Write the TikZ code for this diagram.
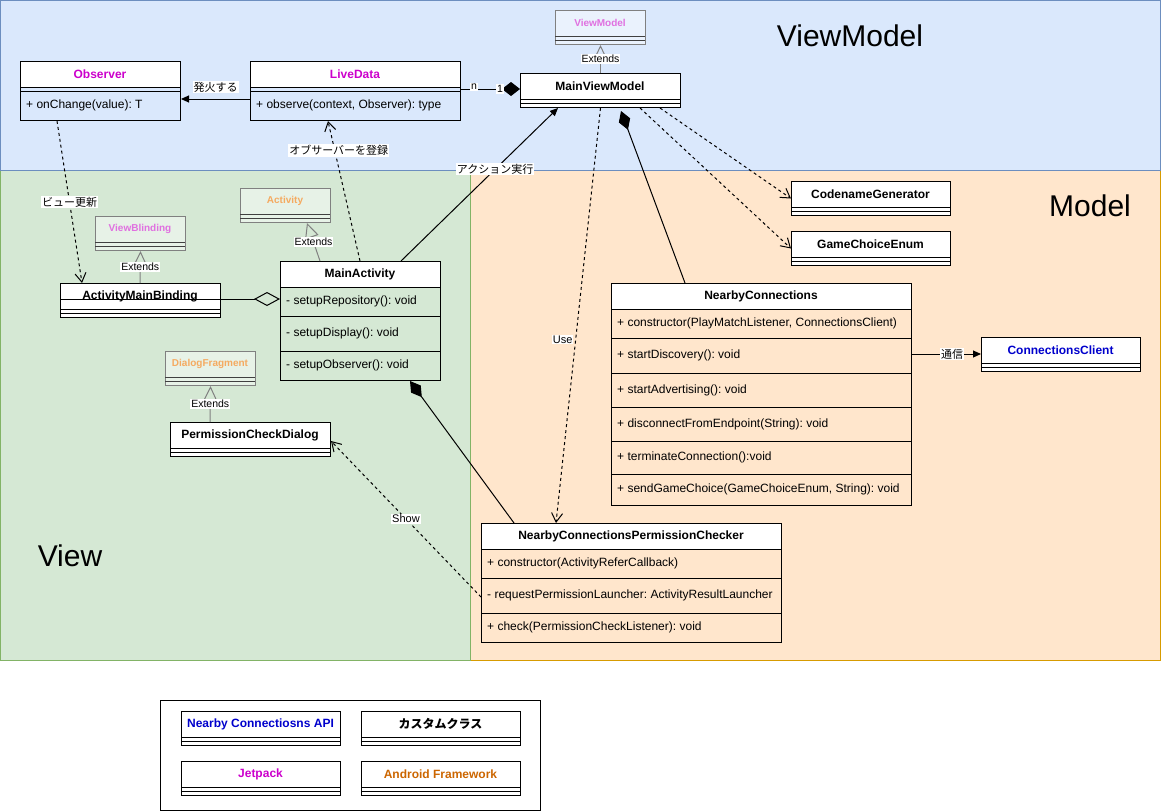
\documentclass[tikz,border=0pt]{standalone}
\usepackage{fontspec}
\setmainfont{Liberation Sans}
\newfontfamily\jp{Noto Sans CJK JP}
\usetikzlibrary{arrows.meta,calc}
\frenchspacing
\definecolor{vmfill}{HTML}{DAE8FC}
\definecolor{vmline}{HTML}{6C8EBF}
\definecolor{vfill}{HTML}{D5E8D4}
\definecolor{vline}{HTML}{82B366}
\definecolor{mfill}{HTML}{FFE6CC}
\definecolor{mline}{HTML}{D79B00}
\definecolor{jet}{HTML}{CC00CC}
\definecolor{api}{HTML}{0000CC}
\definecolor{andr}{HTML}{CC6600}
\definecolor{fjet}{HTML}{E070E0}
\definecolor{fandr}{HTML}{F5AA60}
\newcommand\fs[1]{\fontsize{#1}{#1}\selectfont}
% class box with header
\newcommand\cls[6]{%
  \fill[white] (#2,#3) rectangle ++(#4,26);
  \node[frame, minimum width=#4pt, minimum height=#5pt] (#1) at (#2,#3) {};
  \draw[lw] (#2,#3+26) -- ++(#4,0);
  \node[ttl] at (#2+#4/2,#3+13) {#6};
}
% simple class box (34 high)
\newcommand\scls[5]{%
  \fill[white] (#2,#3) rectangle ++(#4,34);
  \node[frame, minimum width=#4pt, minimum height=34pt] (#1) at (#2,#3) {};
  \draw[lw] (#2,#3+26) -- ++(#4,0);
  \draw[lw] (#2,#3+30) -- ++(#4,0);
  \node[ttl] at (#2+#4/2,#3+13) {#5};
}
% faded class box
\newcommand\fcls[5]{%
  \fill[white, fill opacity=0.45] (#2,#3) rectangle ++(#4,34);
  \node[ffram, minimum width=#4pt, minimum height=34pt] (#1) at (#2,#3) {};
  \draw[lw, black!75] (#2,#3+26) -- ++(#4,0);
  \draw[lw, black!75] (#2,#3+30) -- ++(#4,0);
  \node[fttl] at (#2+#4/2,#3+13) {#5};
}
\newcommand\hsep[3]{\draw[lw] (#1,#2) -- ++(#3,0);}
\begin{document}
\begin{tikzpicture}[x=1pt,y=-1pt,
  lw/.style={line width=1pt},
  frame/.style={draw, line width=1pt, inner sep=0pt, anchor=north west},
  ffram/.style={draw=black!50, line width=1pt, inner sep=0pt, anchor=north west},
  ttl/.style={font=\fs{12}\bfseries, inner sep=0pt},
  fttl/.style={font=\fs{10}\bfseries, inner sep=0pt},
  meth/.style={font=\fs{12}, inner sep=0pt, anchor=west},
  lbl/.style={fill=white, inner sep=1pt, font=\fs{11}},
  elbl/.style={fill=white, inner sep=1pt, font=\fs{10.5}},
  region/.style={font=\fs{30}},
  assoc/.style={lw, -{Triangle[length=8pt,width=7pt]}},
  dep/.style={lw, dash pattern=on 3pt off 3pt, -{Straight Barb[length=9pt,width=11pt]}},
  ext/.style={lw, draw=black!50, -{Triangle[open,length=15pt,width=14pt]}},
  comp/.style={lw, -{Diamond[length=20pt,width=12pt]}},
  aggr/.style={lw, -{Diamond[open,length=26pt,width=14pt]}},
]
\useasboundingbox (0,0) rectangle (1161,811);
% regions
\path[fill=mfill, draw=mline, lw] (470,170) rectangle (1160.5,660);
\path[fill=vfill, draw=vline, lw] (0.5,170) rectangle (470,660);
\path[fill=vmfill, draw=vmline, lw] (0.5,0.5) rectangle (1160.5,170);
\node[region] (lvm) at (850,36) {ViewModel};
\node[region] (lm) at (1090,206) {Model};
\node[region] (lv) at (70,556) {View};

% classes
\cls{obs}{20}{61}{160}{59}{\textcolor{jet}{Observer}}
\hsep{20}{91}{160}
\node[meth] at (26,105.5) {+ onChange(value): T};

\cls{ld}{250}{61}{210}{59}{\textcolor{jet}{LiveData}}
\hsep{250}{91}{210}
\node[meth] at (256,105.5) {+ observe(context, Observer): type};

\fcls{vm}{555}{10}{90}{\textcolor{fjet}{ViewModel}}
\scls{mvm}{520}{73}{160}{MainViewModel}
\scls{cg}{791}{181}{159}{CodenameGenerator}
\scls{gce}{791}{231}{159}{GameChoiceEnum}
\fcls{vb}{95}{216}{90}{\textcolor{fjet}{ViewBlinding}}
\fcls{act}{240}{188}{90}{\textcolor{fandr}{Activity}}
\scls{amb}{60}{283}{160}{ActivityMainBinding}

\cls{ma}{280}{261}{160}{119}{MainActivity}
\hsep{280}{316}{160}
\hsep{280}{351}{160}
\node[meth] at (286,301.5) {- setupRepository(): void};
\node[meth] at (286,333.5) {- setupDisplay(): void};
\node[meth] at (286,365.5) {- setupObserver(): void};

\fcls{df}{165}{351}{90}{\textcolor{fandr}{DialogFragment}}
\scls{pcd}{170}{422}{160}{PermissionCheckDialog}

\cls{ncon}{611}{283}{300}{222}{NearbyConnections}
\hsep{611}{338}{300}
\hsep{611}{373}{300}
\hsep{611}{407}{300}
\hsep{611}{441}{300}
\hsep{611}{474}{300}
\node[meth] at (617,323) {+ constructor(PlayMatchListener, ConnectionsClient)};
\node[meth] at (617,355.5) {+ startDiscovery(): void};
\node[meth] at (617,390) {+ startAdvertising(): void};
\node[meth] at (617,424) {+ disconnectFromEndpoint(String): void};
\node[meth] at (617,457.5) {+ terminateConnection():void};
\node[meth] at (617,489.5) {+ sendGameChoice(GameChoiceEnum, String): void};

\scls{cc}{981}{337}{159}{\textcolor{api}{ConnectionsClient}}

\cls{nc}{481}{523}{300}{119}{NearbyConnectionsPermissionChecker}
\hsep{481}{578}{300}
\hsep{481}{613}{300}
\node[meth] at (487,563) {+ constructor(ActivityReferCallback)};
\node[meth] at (487,595.5) {- requestPermissionLauncher: ActivityResultLauncher};
\node[meth] at (487,627.5) {+ check(PermissionCheckListener): void};

% legend
\draw[lw] (160.5,700.5) rectangle (540.5,810);
\scls{lg1}{181}{711}{159}{\textcolor{api}{Nearby Connectiosns API}}
\scls{lg2}{361}{711}{159}{{\jp カスタムクラス}}
\scls{lg3}{181}{761}{159}{\textcolor{jet}{Jetpack}}
\scls{lg4}{361}{761}{159}{\textcolor{andr}{Android Framework}}

% connectors
\draw[assoc] ($(ld.north west)+(0,38)$) -- ($(obs.north east)+(0,38)$)
  node[lbl, midway, yshift=12pt] {\jp 発火する};
\draw[lw, -{Diamond[length=18pt,width=14pt]}] ($(ld.north east)+(0,28)$) -- ($(mvm.north west)+(0,16)$)
  node[elbl, pos=0.22, yshift=2pt] {n}
  node[elbl, pos=0.66] {1};
\draw[assoc] ($(ma.north west)+(121,0)$) -- ($(mvm.south west)+(38,0)$)
  node[lbl, pos=0.6] {\jp アクション実行};
\draw[dep] ($(ma.north west)+(80,0)$) -- ($(ld.south west)+(78,0)$)
  node[lbl, pos=0.79, xshift=4pt] {\jp オブサーバーを登録};
\draw[dep] ($(obs.south west)+(37,0)$) -- ($(amb.north west)+(22,0)$)
  node[lbl, midway] {\jp ビュー更新};
\draw[ext] ($(amb.north west)+(80,0)$) -- (vb.south)
  node[elbl, midway, text=black] {Extends};
\draw[ext] ($(ma.north west)+(40,0)$) -- ($(act.south west)+(67,0)$)
  node[elbl, midway, text=black] {Extends};
\draw[ext] (mvm.north) -- (vm.south)
  node[elbl, midway, text=black] {Extends};
\draw[ext] ($(pcd.north west)+(40,0)$) -- (df.south)
  node[elbl, midway, text=black] {Extends};
\draw[aggr] ($(amb.north west)+(0,16)$) -- ($(ma.north west)+(0,38)$);
\draw[comp] ($(nc.north west)+(33,0)$) -- ($(ma.south west)+(130,0)$);
\draw[comp] ($(ncon.north west)+(74,0)$) -- ($(mvm.south west)+(101,3)$);
\draw[dep] ($(mvm.south west)+(140,0)$) -- (cg.west);
\draw[dep] ($(mvm.south west)+(120,0)$) -- (gce.west);
\draw[dep] (mvm.south) -- ($(nc.north west)+(75,0)$)
  node[lbl, pos=0.558, xshift=-13pt] {Use};
\draw[dep] ($(nc.north west)+(0,74)$) -- ($(pcd.north east)+(0,19)$)
  node[lbl, midway] {Show};
\draw[assoc] ($(ncon.north east)+(0,71)$) -- ($(cc.north west)+(0,17)$)
  node[lbl, pos=0.58] {\jp 通信};
\end{tikzpicture}
\end{document}
